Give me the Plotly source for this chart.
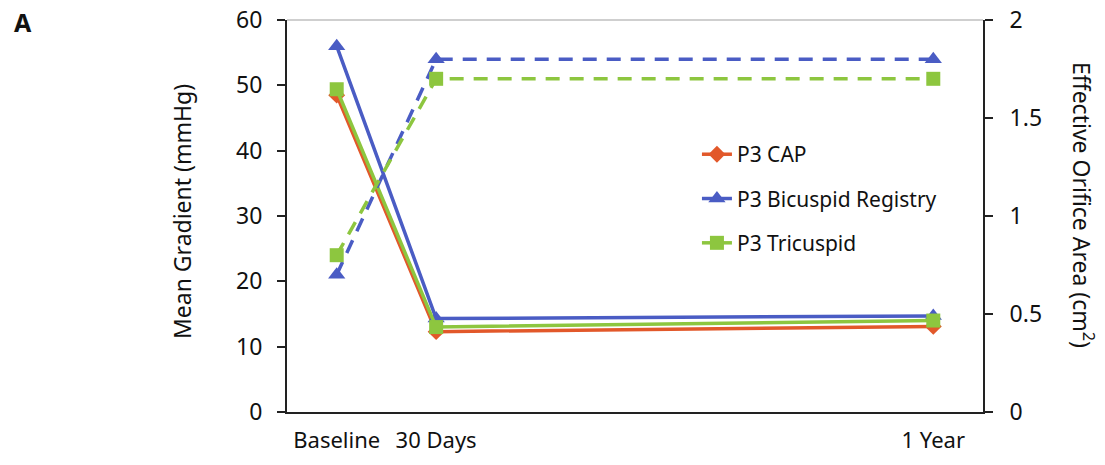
import plotly.graph_objects as go

# Data
time_labels = ["Baseline", "30 Days", "1 Year"]
time_pos = [0, 1, 6]
series_names = ["P3 CAP", "P3 Bicuspid Registry", "P3 Tricuspid"]
gradient_cap = [48.5, 12.3, 13.1]
gradient_bicuspid = [56.0, 14.3, 14.7]
gradient_tricuspid = [49.4, 13.0, 14.0]
eoa_bicuspid = [0.70, 1.80, 1.80]
eoa_tricuspid = [0.80, 1.70, 1.70]

RED = "#E2582A"
BLUE = "#4A5CC4"
GREEN = "#8DC63F"
FONT = "Noto Sans"

W, H = 1105, 465
ML, MR, MT, MB = 287, 122, 20, 53
PW, PH = W - ML - MR, H - MT - MB

fig = go.Figure()

# dashed EOA traces (secondary axis)
fig.add_trace(go.Scatter(x=time_pos, y=eoa_bicuspid, yaxis="y2", mode="lines+markers",
                         line=dict(color=BLUE, width=3.5, dash="14px,10px"),
                         marker=dict(symbol="triangle-up", size=15, color=BLUE),
                         showlegend=False))
fig.add_trace(go.Scatter(x=time_pos, y=eoa_tricuspid, yaxis="y2", mode="lines+markers",
                         line=dict(color=GREEN, width=3.5, dash="14px,10px"),
                         marker=dict(symbol="square", size=14, color=GREEN),
                         showlegend=False))

# solid gradient traces
fig.add_trace(go.Scatter(x=time_pos, y=gradient_cap, mode="lines+markers", name=series_names[0],
                         line=dict(color=RED, width=3.5),
                         marker=dict(symbol="diamond", size=13, color=RED),
                         legendgroup="a"))
fig.add_trace(go.Scatter(x=time_pos, y=gradient_bicuspid, mode="lines+markers", name=series_names[1],
                         line=dict(color=BLUE, width=3.5),
                         marker=dict(symbol="triangle-up", size=15, color=BLUE),
                         legendgroup="b"))
fig.add_trace(go.Scatter(x=time_pos, y=gradient_tricuspid, mode="lines+markers", name=series_names[2],
                         line=dict(color=GREEN, width=3.5),
                         marker=dict(symbol="square", size=14, color=GREEN),
                         legendgroup="c"))

fig.update_layout(
    width=W, height=H,
    margin=dict(l=ML, r=MR, t=MT, b=MB),
    paper_bgcolor="white", plot_bgcolor="white",
    font=dict(family=FONT, size=21, color="#111111"),
    xaxis=dict(range=[-0.5, 6.5], tickvals=time_pos, ticktext=time_labels, automargin=False,
               showgrid=False, zeroline=False, showline=True, linecolor="#222222", linewidth=2,
               ticks="", ticklabelstandoff=8, tickfont=dict(size=22)),
    yaxis=dict(range=[0, 60], dtick=10, showgrid=False, zeroline=False, automargin=False,
               showline=True, linecolor="#222222", linewidth=2,
               ticks="outside", ticklen=8, tickwidth=2, tickcolor="#222222",
               ticklabelstandoff=10, tickfont=dict(size=23), ticklabeloverflow="allow"),
    yaxis2=dict(range=[0, 2], tickvals=[0, 0.5, 1, 1.5, 2], ticktext=["0", "0.5", "1", "1.5", "2"],
                overlaying="y", side="right", showgrid=False, zeroline=False, automargin=False,
                showline=True, linecolor="#222222", linewidth=2,
                ticks="outside", ticklen=8, tickwidth=2, tickcolor="#222222",
                ticklabelstandoff=12, tickfont=dict(size=23), ticklabeloverflow="allow"),
    legend=dict(x=0.589, y=0.709, xanchor="left", yanchor="top", bgcolor="rgba(0,0,0,0)",
                tracegroupgap=14, traceorder="grouped", font=dict(size=21)),
    shapes=[dict(type="line", xref="paper", yref="paper", x0=0, x1=1, y0=1, y1=1,
                 line=dict(color="#BFBFBF", width=1.5))],
    annotations=[
        dict(text="<b>A</b>", xref="paper", yref="paper", x=(12 - ML) / PW, y=1 - 2 / PH,
             xanchor="left", yanchor="middle", showarrow=False, font=dict(size=25, family=FONT)),
        dict(text="Mean Gradient (mmHg)", xref="paper", yref="paper",
             x=-105 / PW, y=0.51, textangle=-90, showarrow=False,
             xanchor="center", yanchor="middle", font=dict(size=23, family=FONT)),
        dict(text="Effective Orifice Area (cm<sup>2</sup>)", xref="paper", yref="paper",
             x=1 + 100 / PW, y=0.528, textangle=90, showarrow=False,
             xanchor="center", yanchor="middle", font=dict(size=23, family=FONT)),
    ],
)

fig.write_html("out.html", config={"displayModeBar": False},
               post_script="document.body.style.margin='0';document.body.style.overflow='hidden';")
